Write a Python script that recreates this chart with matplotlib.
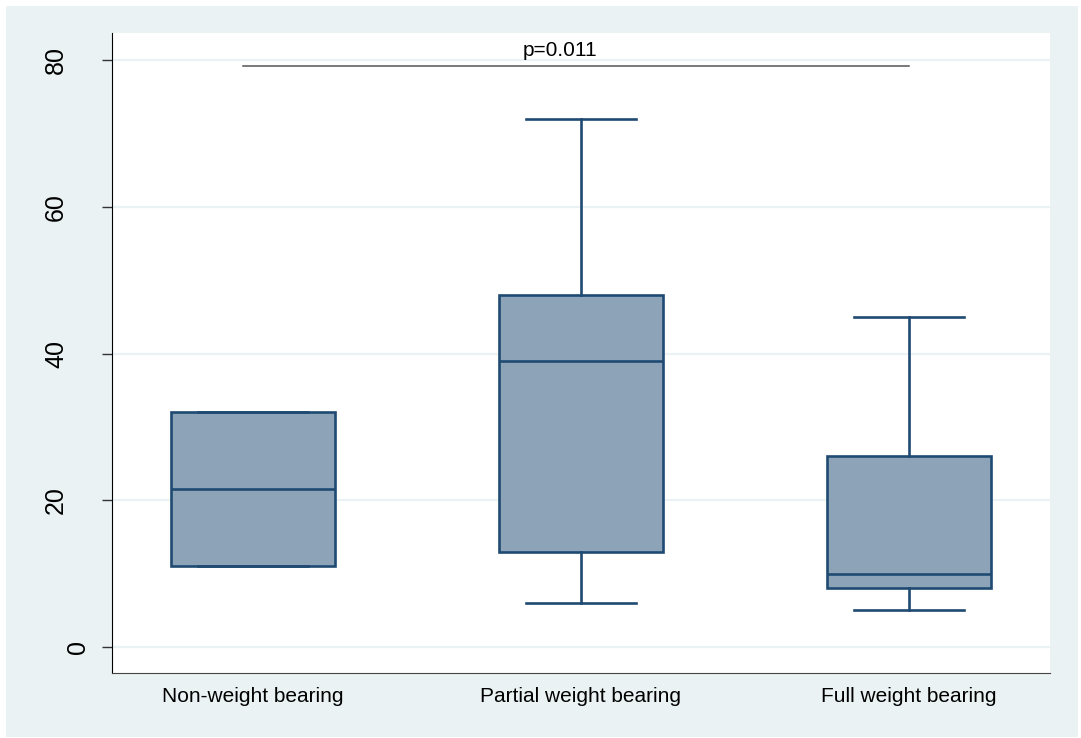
import matplotlib.pyplot as plt
from matplotlib.patches import Rectangle
from matplotlib.transforms import ScaledTranslation

# Group summaries (box plot statistics)
groups = ["Non-weight bearing", "Partial weight bearing", "Full weight bearing"]
whisker_low = [11.0, 6.0, 5.0]
q1 = [11.0, 13.0, 8.0]
median = [21.5, 39.0, 10.0]
q3 = [32.0, 48.0, 26.0]
whisker_high = [32.0, 72.0, 45.0]
y_ticks = [0, 20, 40, 60, 80]
p_label = "p=0.011"
p_line_y = 79.2

BG = "#eaf2f3"
BOX_FACE = "#8ca3b8"
BOX_EDGE = "#1f4a72"

plt.rcParams["font.family"] = ["Liberation Sans", "DejaVu Sans"]

W, H = 1081, 738
fig = plt.figure(figsize=(W / 100, H / 100), dpi=100, facecolor="white")
# light panel behind the plot region, with a thin white margin
fig.add_artist(Rectangle((6 / W, 1 / H), (1078 - 6) / W, (737 - 6) / H,
                         transform=fig.transFigure, facecolor=BG,
                         edgecolor="none", zorder=-10))

ax = fig.add_axes([112 / W, (H - 673) / H, 938 / W, (673 - 33) / H])
ax.set_facecolor("white")

stats = []
for i, name in enumerate(groups):
    stats.append({"label": name, "whislo": whisker_low[i], "q1": q1[i],
                  "med": median[i], "q3": q3[i], "whishi": whisker_high[i],
                  "fliers": []})

positions = [1, 2, 3]
edge = dict(color=BOX_EDGE, linewidth=1.9)
ax.bxp(stats, positions=positions, widths=0.5, patch_artist=True,
       showfliers=False, capwidths=0.335,
       boxprops=dict(facecolor=BOX_FACE, edgecolor=BOX_EDGE, linewidth=1.9),
       medianprops=edge, whiskerprops=edge, capprops=edge, zorder=3)

ax.set_xlim(0.57, 3.43)
ax.set_ylim(-3.54, 83.7)

ax.set_yticks(y_ticks)
ax.set_yticklabels([str(t) for t in y_ticks], rotation=90, va="center")
ax.tick_params(axis="y", direction="out", length=7.5, width=1, pad=24,
               labelsize=18, color="#333333")
ax.tick_params(axis="x", length=0, pad=10, labelsize=15)
ax.grid(axis="y", color=BG, linewidth=1.6, zorder=0)
ax.set_axisbelow(True)

# the single-digit label sits closer to the axis
zero_label = ax.get_yticklabels()[0]
zero_label.set_transform(zero_label.get_transform()
                         + ScaledTranslation(0.22, 0, fig.dpi_scale_trans))

for side in ("top", "right"):
    ax.spines[side].set_visible(False)
ax.spines["left"].set_color("black")
ax.spines["bottom"].set_color("#444444")

# Significance line across the groups
ax.plot([0.97, 3.0], [p_line_y, p_line_y], color="#555555", linewidth=1.1,
        zorder=4)
ax.text(1.936, 80.0, p_label, ha="center", va="bottom", fontsize=15)

fig.savefig("out.png", dpi=100, facecolor=fig.get_facecolor())
